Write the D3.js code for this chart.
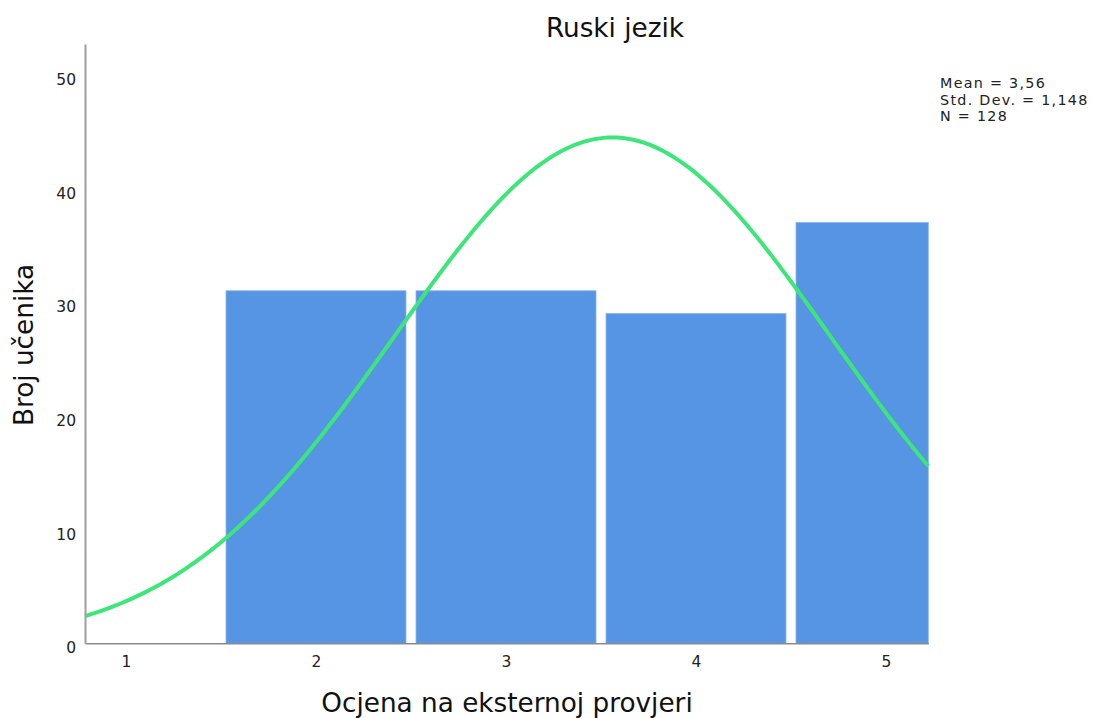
<!DOCTYPE html>
<html><head><meta charset="utf-8">
<script src="https://cdn.jsdelivr.net/npm/d3@7"></script>
<style>
html,body{margin:0;padding:0;background:#fff;}
svg{display:block;font-family:"DejaVu Sans",Verdana,sans-serif;}
</style></head>
<body><svg id="c" width="1095" height="718"></svg>
<script>
const grades = [1, 2, 3, 4, 5];
const counts = [0, 31, 31, 29, 37];
const yTicks = [0, 10, 20, 30, 40, 50];
const statLines = ["Mean = 3,56", "Std. Dev. = 1,148", "N = 128"];
const mean = 3.56, sd = 1.148, n = 128;
const title = "Ruski jezik";
const xTitle = "Ocjena na eksternoj provjeri";
const yTitle = "Broj učenika";

const svg = d3.select("#c");
const x = d3.scaleLinear().domain([0.7842, 5.2226]).range([85, 928.3]);
const y = d3.scaleLinear().domain([0, 52.7]).range([643.3, 44]);

// bars
const pad = 5;
svg.append("g").selectAll("rect").data(grades.map((g,i)=>({g, c: counts[i]})).filter(d=>d.c>0))
  .join("rect")
  .attr("x", d => x(d.g - 0.5) + pad)
  .attr("width", d => Math.min(x(d.g + 0.5) - pad, x.range()[1]) - (x(d.g - 0.5) + pad))
  .attr("y", d => y(d.c))
  .attr("height", d => y(0) - y(d.c))
  .attr("fill", "#5595e3")
  .attr("stroke", "#8db4ee")
  .attr("stroke-width", 0.8);

// normal curve
const pdf = v => n * 1 / (sd * Math.sqrt(2*Math.PI)) * Math.exp(-0.5*((v-mean)/sd)**2);
const [x0, x1] = x.domain();
const pts = d3.range(0, 201).map(i => x0 + (x1 - x0) * i / 200);
svg.append("path")
  .attr("d", d3.line().x(v => x(v)).y(v => y(pdf(v)))(pts))
  .attr("fill", "none")
  .attr("stroke", "#3de57a")
  .attr("stroke-width", 4);

// axes
const xAxis = d3.axisBottom(x).tickValues(grades).tickSize(0).tickPadding(13).tickFormat(d3.format("d"));
const gx = svg.append("g").attr("transform", `translate(0,${y(0)})`).call(xAxis);
gx.select(".domain").attr("stroke", "#8a8a8a").attr("stroke-width", 1.6);
gx.selectAll("text").attr("font-size", 15.5).attr("fill", "#222").attr("font-family", "DejaVu Sans");

const yAxis = d3.axisLeft(y).tickValues(yTicks).tickSize(0).tickPadding(9).tickFormat(d3.format("d"));
const gy = svg.append("g").attr("transform", `translate(${x.range()[0]},0)`).call(yAxis);
gy.select(".domain").attr("stroke", "#a0a0a0").attr("stroke-width", 2);
gy.selectAll("text").attr("font-size", 15.5).attr("fill", "#222").attr("dy", "0.62em").attr("font-family", "DejaVu Sans");

// titles
svg.append("text").attr("x", 615).attr("y", 37).attr("text-anchor", "middle")
  .attr("font-size", 26.3).attr("fill", "#111").text(title);
svg.append("text").attr("x", 507).attr("y", 712).attr("text-anchor", "middle")
  .attr("font-size", 26.3).attr("fill", "#111").text(xTitle);
svg.append("text").attr("transform", "translate(33,345) rotate(-90)").attr("text-anchor", "middle")
  .attr("font-size", 26.3).attr("fill", "#111").text(yTitle);

// stats
svg.append("g").selectAll("text").data(statLines).join("text")
  .attr("x", 940).attr("y", (d,i) => 88 + i*16.7)
  .attr("font-size", 14.3).attr("letter-spacing", 1.3).attr("fill", "#222").text(d => d);
</script></body></html>
